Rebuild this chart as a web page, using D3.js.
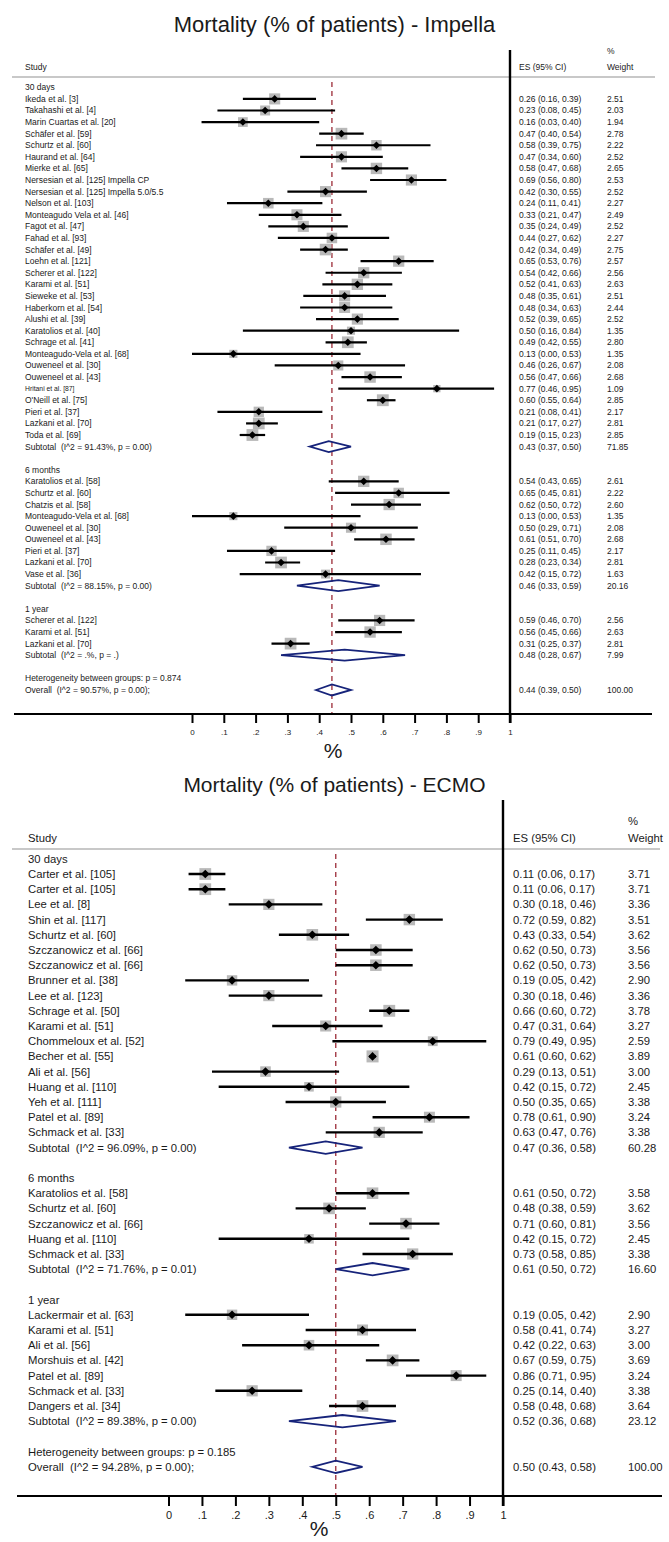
<!DOCTYPE html>
<html>
<head>
<meta charset="utf-8">
<script src="https://cdn.jsdelivr.net/npm/d3@7"></script>
<style>
  html, body { margin: 0; padding: 0; background: #fff; }
  svg text { font-family: "Liberation Sans", Arial, sans-serif; fill: #1a1a1a; white-space: pre; }
</style>
</head>
<body>
<svg id="chart" width="669" height="1542"></svg>
<script>
// ---------------- DATA: Impella ----------------
// [label, ES, lower, upper, weight]
const impella30 = [
  ["Ikeda et al. [3]", 0.26, 0.16, 0.39, 2.51],
  ["Takahashi et al. [4]", 0.23, 0.08, 0.45, 2.03],
  ["Marin Cuartas et al. [20]", 0.16, 0.03, 0.40, 1.94],
  ["Schäfer et al. [59]", 0.47, 0.40, 0.54, 2.78],
  ["Schurtz et al. [60]", 0.58, 0.39, 0.75, 2.22],
  ["Haurand et al. [64]", 0.47, 0.34, 0.60, 2.52],
  ["Mierke et al. [65]", 0.58, 0.47, 0.68, 2.65],
  ["Nersesian et al. [125] Impella CP", 0.69, 0.56, 0.80, 2.53],
  ["Nersesian et al. [125] Impella 5.0/5.5", 0.42, 0.30, 0.55, 2.52],
  ["Nelson et al. [103]", 0.24, 0.11, 0.41, 2.27],
  ["Monteagudo Vela et al. [46]", 0.33, 0.21, 0.47, 2.49],
  ["Fagot et al. [47]", 0.35, 0.24, 0.49, 2.52],
  ["Fahad et al. [93]", 0.44, 0.27, 0.62, 2.27],
  ["Schäfer et al. [49]", 0.42, 0.34, 0.49, 2.75],
  ["Loehn et al. [121]", 0.65, 0.53, 0.76, 2.57],
  ["Scherer et al. [122]", 0.54, 0.42, 0.66, 2.56],
  ["Karami et al. [51]", 0.52, 0.41, 0.63, 2.63],
  ["Sieweke et al. [53]", 0.48, 0.35, 0.61, 2.51],
  ["Haberkorn et al. [54]", 0.48, 0.34, 0.63, 2.44],
  ["Alushi et al. [39]", 0.52, 0.39, 0.65, 2.52],
  ["Karatolios et al. [40]", 0.50, 0.16, 0.84, 1.35],
  ["Schrage et al. [41]", 0.49, 0.42, 0.55, 2.80],
  ["Monteagudo-Vela et al. [68]", 0.13, 0.00, 0.53, 1.35],
  ["Ouweneel et al. [30]", 0.46, 0.26, 0.67, 2.08],
  ["Ouweneel et al. [43]", 0.56, 0.47, 0.66, 2.68],
  ["Hritani et al. [87]", 0.77, 0.46, 0.95, 1.09],
  ["O'Neill et al. [75]", 0.60, 0.55, 0.64, 2.85],
  ["Pieri et al. [37]", 0.21, 0.08, 0.41, 2.17],
  ["Lazkani et al. [70]", 0.21, 0.17, 0.27, 2.81],
  ["Toda et al. [69]", 0.19, 0.15, 0.23, 2.85]
];
const impella6m = [
  ["Karatolios et al. [58]", 0.54, 0.43, 0.65, 2.61],
  ["Schurtz et al. [60]", 0.65, 0.45, 0.81, 2.22],
  ["Chatzis et al. [58]", 0.62, 0.50, 0.72, 2.60],
  ["Monteagudo-Vela et al. [68]", 0.13, 0.00, 0.53, 1.35],
  ["Ouweneel et al. [30]", 0.50, 0.29, 0.71, 2.08],
  ["Ouweneel et al. [43]", 0.61, 0.51, 0.70, 2.68],
  ["Pieri et al. [37]", 0.25, 0.11, 0.45, 2.17],
  ["Lazkani et al. [70]", 0.28, 0.23, 0.34, 2.81],
  ["Vase et al. [36]", 0.42, 0.15, 0.72, 1.63]
];
const impella1y = [
  ["Scherer et al. [122]", 0.59, 0.46, 0.70, 2.56],
  ["Karami et al. [51]", 0.56, 0.45, 0.66, 2.63],
  ["Lazkani et al. [70]", 0.31, 0.25, 0.37, 2.81]
];
const impellaGroupNames = ["30 days", "6 months", "1 year"];
const impellaSubtotals = [
  ["Subtotal  (I^2 = 91.43%, p = 0.00)", 0.43, 0.37, 0.50, 71.85],
  ["Subtotal  (I^2 = 88.15%, p = 0.00)", 0.46, 0.33, 0.59, 20.16],
  ["Subtotal  (I^2 = .%, p = .)", 0.48, 0.28, 0.67, 7.99]
];
const impellaHeterogeneity = "Heterogeneity between groups: p = 0.874";
const impellaOverall = ["Overall  (I^2 = 90.57%, p = 0.00);", 0.44, 0.39, 0.50, 100.00];

// ---------------- DATA: ECMO ----------------
const ecmo30 = [
  ["Carter et al. [105]", 0.11, 0.06, 0.17, 3.71],
  ["Carter et al. [105]", 0.11, 0.06, 0.17, 3.71],
  ["Lee et al. [8]", 0.30, 0.18, 0.46, 3.36],
  ["Shin et al. [117]", 0.72, 0.59, 0.82, 3.51],
  ["Schurtz et al. [60]", 0.43, 0.33, 0.54, 3.62],
  ["Szczanowicz et al. [66]", 0.62, 0.50, 0.73, 3.56],
  ["Szczanowicz et al. [66]", 0.62, 0.50, 0.73, 3.56],
  ["Brunner et al. [38]", 0.19, 0.05, 0.42, 2.90],
  ["Lee et al. [123]", 0.30, 0.18, 0.46, 3.36],
  ["Schrage et al. [50]", 0.66, 0.60, 0.72, 3.78],
  ["Karami et al. [51]", 0.47, 0.31, 0.64, 3.27],
  ["Chommeloux et al. [52]", 0.79, 0.49, 0.95, 2.59],
  ["Becher et al. [55]", 0.61, 0.60, 0.62, 3.89],
  ["Ali et al. [56]", 0.29, 0.13, 0.51, 3.00],
  ["Huang et al. [110]", 0.42, 0.15, 0.72, 2.45],
  ["Yeh et al. [111]", 0.50, 0.35, 0.65, 3.38],
  ["Patel et al. [89]", 0.78, 0.61, 0.90, 3.24],
  ["Schmack et al. [33]", 0.63, 0.47, 0.76, 3.38]
];
const ecmo6m = [
  ["Karatolios et al. [58]", 0.61, 0.50, 0.72, 3.58],
  ["Schurtz et al. [60]", 0.48, 0.38, 0.59, 3.62],
  ["Szczanowicz et al. [66]", 0.71, 0.60, 0.81, 3.56],
  ["Huang et al. [110]", 0.42, 0.15, 0.72, 2.45],
  ["Schmack et al. [33]", 0.73, 0.58, 0.85, 3.38]
];
const ecmo1y = [
  ["Lackermair et al. [63]", 0.19, 0.05, 0.42, 2.90],
  ["Karami et al. [51]", 0.58, 0.41, 0.74, 3.27],
  ["Ali et al. [56]", 0.42, 0.22, 0.63, 3.00],
  ["Morshuis et al. [42]", 0.67, 0.59, 0.75, 3.69],
  ["Patel et al. [89]", 0.86, 0.71, 0.95, 3.24],
  ["Schmack et al. [33]", 0.25, 0.14, 0.40, 3.38],
  ["Dangers et al. [34]", 0.58, 0.48, 0.68, 3.64]
];
const ecmoGroupNames = ["30 days", "6 months", "1 year"];
const ecmoSubtotals = [
  ["Subtotal  (I^2 = 96.09%, p = 0.00)", 0.47, 0.36, 0.58, 60.28],
  ["Subtotal  (I^2 = 71.76%, p = 0.01)", 0.61, 0.50, 0.72, 16.60],
  ["Subtotal  (I^2 = 89.38%, p = 0.00)", 0.52, 0.36, 0.68, 23.12]
];
const ecmoHeterogeneity = "Heterogeneity between groups: p = 0.185";
const ecmoOverall = ["Overall  (I^2 = 94.28%, p = 0.00);", 0.50, 0.43, 0.58, 100.00];

const axisTicks = [0, .1, .2, .3, .4, .5, .6, .7, .8, .9, 1];

// ---------------- DRAWING ----------------
const svg = d3.select("#chart");
const f2 = d3.format(".2f");
const tickFmt = d => d === 0 ? "0" : d === 1 ? "1" : d3.format(".1f")(d).replace(/^0/, "");

function buildRows(groupNames, groups, subtotals, het, overall) {
  const rows = [];
  let r = 0;
  groupNames.forEach((g, i) => {
    rows.push({ type: "head", label: g, r: r++ });
    groups[i].forEach(s => rows.push({ type: "study", label: s[0], es: s[1], lo: s[2], hi: s[3], w: s[4], r: r++ }));
    const st = subtotals[i];
    rows.push({ type: "sub", label: st[0], es: st[1], lo: st[2], hi: st[3], w: st[4], r: r++ });
    r++; // blank row
  });
  rows.push({ type: "head", label: het, r: r++ });
  rows.push({ type: "sub", label: overall[0], es: overall[1], lo: overall[2], hi: overall[3], w: overall[4], r: r++ });
  return rows;
}

function drawPanel(cfg, title, rows, overall) {
  const g = svg.append("g");
  const x = d3.scaleLinear().domain([0, 1]).range([cfg.x0, cfg.x1]);
  const y = r => cfg.row0 + r * cfg.rowH;

  g.append("text").attr("x", 334.5).attr("y", cfg.titleY)
    .attr("text-anchor", "middle").attr("dominant-baseline", "central")
    .style("font-size", cfg.titleSize + "px").text(title);

  // headers
  const hs = cfg.font + "px";
  g.append("text").attr("x", cfg.labelX).attr("y", cfg.headerY).attr("dominant-baseline", "central").style("font-size", hs).text("Study");
  g.append("text").attr("x", cfg.esX).attr("y", cfg.headerY).attr("dominant-baseline", "central").style("font-size", hs).text("ES (95% CI)");
  g.append("text").attr("x", cfg.wX).attr("y", cfg.headerY).attr("dominant-baseline", "central").style("font-size", hs).text("Weight");
  g.append("text").attr("x", cfg.wX).attr("y", cfg.pctY).attr("dominant-baseline", "central").style("font-size", hs).text("%");

  g.append("line").attr("x1", cfg.sepL).attr("x2", cfg.sepR).attr("y1", cfg.sepY).attr("y2", cfg.sepY)
    .attr("stroke", "#c8c8c8").attr("stroke-width", 2);

  // dashed overall line
  g.append("line").attr("x1", x(overall[1])).attr("x2", x(overall[1]))
    .attr("y1", cfg.sepY + 5).attr("y2", cfg.axisY)
    .attr("stroke", "#a33a45").attr("stroke-width", 1.4).attr("stroke-dasharray", "5,4");

  const studies = rows.filter(d => d.type === "study");
  const subs = rows.filter(d => d.type === "sub");

  // weight boxes
  g.selectAll(".box").data(studies).join("rect")
    .attr("x", d => x(d.es) - cfg.boxK * Math.sqrt(d.w) / 2)
    .attr("y", d => y(d.r) - cfg.boxK * Math.sqrt(d.w) / 2)
    .attr("width", d => cfg.boxK * Math.sqrt(d.w))
    .attr("height", d => cfg.boxK * Math.sqrt(d.w))
    .attr("fill", "#b9b9b9");
  // CI lines
  g.selectAll(".ci").data(studies).join("line")
    .attr("x1", d => x(d.lo)).attr("x2", d => x(d.hi))
    .attr("y1", d => y(d.r)).attr("y2", d => y(d.r))
    .attr("stroke", "#000").attr("stroke-width", cfg.ciW);
  // point markers
  const m = cfg.mk;
  g.selectAll(".pt").data(studies).join("path")
    .attr("d", d => `M${x(d.es)},${y(d.r) - m}L${x(d.es) + m},${y(d.r)}L${x(d.es)},${y(d.r) + m}L${x(d.es) - m},${y(d.r)}Z`)
    .attr("fill", "#000");
  // pooled diamonds
  const h = cfg.dH;
  g.selectAll(".dia").data(subs).join("path")
    .attr("d", d => `M${x(d.lo)},${y(d.r)}L${x(d.es)},${y(d.r) - h}L${x(d.hi)},${y(d.r)}L${x(d.es)},${y(d.r) + h}Z`)
    .attr("fill", "none").attr("stroke", "#16237a").attr("stroke-width", 1.8);

  // labels
  g.selectAll(".lab").data(rows).join("text")
    .attr("x", cfg.labelX).attr("y", d => y(d.r)).attr("dominant-baseline", "central")
    .style("font-size", d => (d.label.startsWith("Hritani") ? cfg.font * 0.8 : cfg.font) + "px")
    .text(d => d.label);
  const valued = rows.filter(d => d.type !== "head");
  g.selectAll(".es").data(valued).join("text")
    .attr("x", cfg.esX).attr("y", d => y(d.r)).attr("dominant-baseline", "central")
    .style("font-size", hs)
    .text(d => `${f2(d.es)} (${f2(d.lo)}, ${f2(d.hi)})`);
  g.selectAll(".wt").data(valued).join("text")
    .attr("x", cfg.wX).attr("y", d => y(d.r)).attr("dominant-baseline", "central")
    .style("font-size", hs)
    .text(d => f2(d.w));

  // axis
  g.append("line").attr("x1", cfg.axL).attr("x2", cfg.axR).attr("y1", cfg.axisY).attr("y2", cfg.axisY)
    .attr("stroke", "#000").attr("stroke-width", 2);
  const ax = g.append("g").attr("transform", `translate(0,${cfg.axisY})`)
    .call(d3.axisBottom(x).tickValues(axisTicks).tickFormat(tickFmt).tickSize(cfg.tickLen).tickPadding(cfg.tickPad));
  ax.select(".domain").remove();
  ax.selectAll(".tick line").attr("stroke", "#000").attr("stroke-width", 2);
  ax.selectAll(".tick text").attr("fill", "#1a1a1a")
    .style("font-family", '"Liberation Sans", Arial, sans-serif').style("font-size", cfg.tickFont + "px");

  // vertical reference line at 1
  g.append("line").attr("x1", x(1)).attr("x2", x(1)).attr("y1", cfg.vTop).attr("y2", cfg.axisY + cfg.tickLen)
    .attr("stroke", "#000").attr("stroke-width", 2.4);

  g.append("text").attr("x", cfg.pctLabelX).attr("y", cfg.pctLabelY)
    .attr("text-anchor", "middle").attr("dominant-baseline", "central")
    .style("font-size", cfg.pctLabelSize + "px").text("%");
}

const impellaRows = buildRows(impellaGroupNames, [impella30, impella6m, impella1y], impellaSubtotals, impellaHeterogeneity, impellaOverall);
const ecmoRows = buildRows(ecmoGroupNames, [ecmo30, ecmo6m, ecmo1y], ecmoSubtotals, ecmoHeterogeneity, ecmoOverall);

drawPanel({
  titleY: 24, titleSize: 22, headerY: 67, pctY: 51, sepY: 77, sepL: 12, sepR: 655,
  row0: 87.3, rowH: 11.59, x0: 192, x1: 510, axisY: 714, axL: 14, axR: 652,
  labelX: 25, esX: 519, wX: 607, font: 8.5, tickFont: 8, tickLen: 9, tickPad: 6,
  vTop: 50, pctLabelX: 333, pctLabelY: 750, pctLabelSize: 21, boxK: 7, mk: 3.8, dH: 5.5, ciW: 2.2
}, "Mortality (% of patients) - Impella", impellaRows, impellaOverall);

drawPanel({
  titleY: 784, titleSize: 21, headerY: 838, pctY: 821, sepY: 849, sepL: 12, sepR: 660,
  row0: 858.8, rowH: 15.2, x0: 168.5, x1: 503, axisY: 1496, axL: 17, axR: 662,
  labelX: 28, esX: 513, wX: 628, font: 11.3, tickFont: 11, tickLen: 10, tickPad: 5,
  vTop: 800, pctLabelX: 319, pctLabelY: 1528, pctLabelSize: 21, boxK: 6.1, mk: 4.3, dH: 6.2, ciW: 2.4
}, "Mortality (% of patients) - ECMO", ecmoRows, ecmoOverall);
</script>
</body>
</html>
